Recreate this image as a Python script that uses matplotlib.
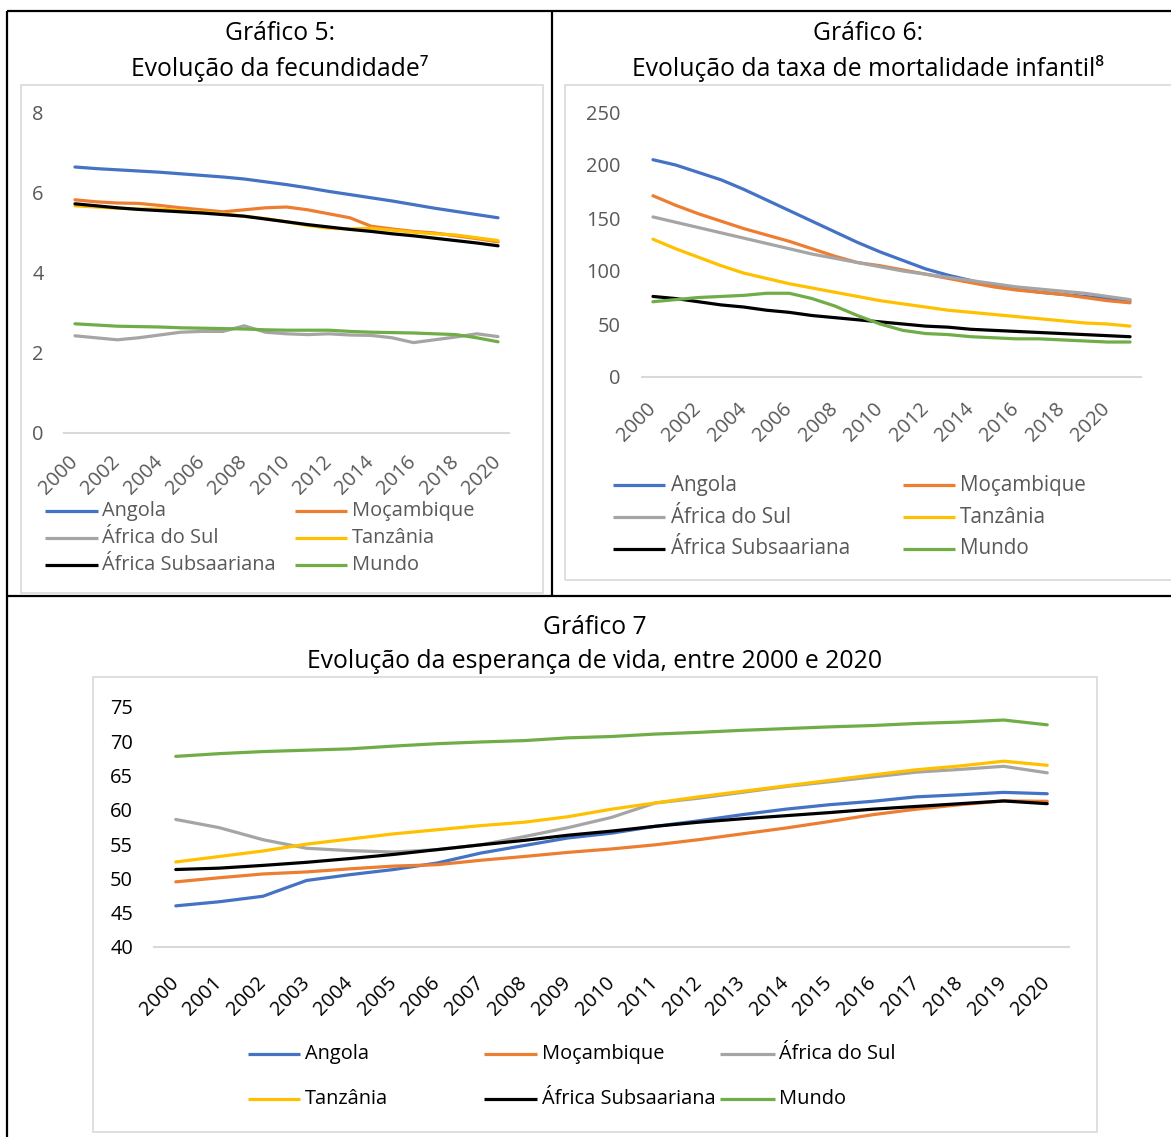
import matplotlib
matplotlib.use("Agg")
import matplotlib.pyplot as plt
from matplotlib.lines import Line2D
from matplotlib.patches import Rectangle

plt.rcParams["font.family"] = ["Open Sans", "DejaVu Sans"]

W, H = 1171, 1137
DPI = 100

series_names = ["Angola", "Moçambique", "África do Sul", "Tanzânia",
                "África Subsaariana", "Mundo"]
series_colors = ["#4472C4", "#ED7D31", "#A5A5A5", "#FFC000", "#000000", "#70AD47"]

# Gráfico 5 - fecundidade (filhos por mulher)
years_fec = list(range(2000, 2021))
fec_angola = [6.65, 6.61, 6.58, 6.55, 6.52, 6.48, 6.44, 6.40, 6.35, 6.28, 6.21,
              6.13, 6.04, 5.96, 5.88, 5.80, 5.71, 5.62, 5.54, 5.46, 5.38]
fec_mocambique = [5.83, 5.78, 5.75, 5.74, 5.69, 5.63, 5.58, 5.53, 5.58, 5.63, 5.65,
                  5.58, 5.48, 5.38, 5.17, 5.10, 5.04, 5.00, 4.93, 4.86, 4.78]
fec_africa_sul = [2.43, 2.38, 2.33, 2.38, 2.45, 2.52, 2.54, 2.54, 2.68, 2.52, 2.48,
                  2.46, 2.48, 2.45, 2.44, 2.38, 2.26, 2.33, 2.40, 2.48, 2.41]
fec_tanzania = [5.68, 5.65, 5.62, 5.60, 5.60, 5.56, 5.52, 5.48, 5.42, 5.36, 5.28,
                5.19, 5.12, 5.10, 5.12, 5.07, 5.02, 4.98, 4.95, 4.88, 4.81]
fec_subsaariana = [5.73, 5.68, 5.63, 5.59, 5.56, 5.53, 5.50, 5.46, 5.42, 5.35, 5.28,
                   5.21, 5.15, 5.09, 5.04, 4.98, 4.93, 4.87, 4.81, 4.75, 4.68]
fec_mundo = [2.73, 2.70, 2.67, 2.66, 2.65, 2.63, 2.62, 2.61, 2.60, 2.58, 2.57,
             2.57, 2.57, 2.54, 2.52, 2.51, 2.50, 2.48, 2.46, 2.38, 2.28]
fec_ticks = [0, 2, 4, 6, 8]

# Gráfico 6 - mortalidade infantil (por 1000 nados vivos)
years_mort = list(range(2000, 2022))
mort_angola = [205, 200, 193, 186, 177, 167, 157, 147, 137, 127, 118,
               110, 102, 96, 91, 86, 83, 80, 78, 76, 74, 72]
mort_mocambique = [171, 162, 154, 147, 140, 134, 128, 121, 114, 108, 105,
                   101, 97, 93, 89, 85, 82, 80, 78, 75, 72, 70]
mort_africa_sul = [151, 146, 141, 136, 131, 126, 121, 116, 112, 108, 104,
                   100, 97, 94, 91, 88, 85, 83, 81, 79, 76, 73]
mort_tanzania = [130, 121, 113, 105, 98, 93, 88, 84, 80, 76, 72,
                 69, 66, 63, 61, 59, 57, 55, 53, 51, 50, 48]
mort_subsaariana = [76, 74, 71, 68, 66, 63, 61, 58, 56, 54, 52,
                    50, 48, 47, 45, 44, 43, 42, 41, 40, 39, 38]
mort_mundo = [71, 73, 75, 76, 77, 79, 79, 74, 67, 58, 50,
              44, 41, 40, 38, 37, 36, 36, 35, 34, 33, 33]
mort_ticks = [0, 50, 100, 150, 200, 250]

# Gráfico 7 - esperança de vida (anos)
years_life = list(range(2000, 2021))
life_angola = [46.0, 46.6, 47.4, 49.7, 50.55, 51.3, 52.25, 53.7, 54.8, 55.9, 56.6,
               57.6, 58.4, 59.3, 60.1, 60.75, 61.25, 61.9, 62.2, 62.55, 62.35]
life_mocambique = [49.5, 50.1, 50.65, 50.95, 51.4, 51.8, 52.0, 52.65, 53.2, 53.8, 54.3,
                   54.9, 55.65, 56.5, 57.35, 58.3, 59.3, 60.1, 60.75, 61.3, 61.25]
life_africa_sul = [58.6, 57.4, 55.65, 54.4, 54.05, 53.85, 54.2, 54.9, 56.1, 57.4, 58.9,
                   61.0, 61.7, 62.55, 63.4, 64.1, 64.8, 65.5, 65.9, 66.35, 65.4]
life_tanzania = [52.4, 53.2, 54.0, 55.0, 55.75, 56.5, 57.1, 57.7, 58.2, 59.0, 60.1,
                 61.0, 61.9, 62.7, 63.5, 64.3, 65.1, 65.85, 66.4, 67.1, 66.5]
life_subsaariana = [51.3, 51.5, 51.9, 52.35, 52.9, 53.5, 54.2, 54.9, 55.55, 56.3, 56.9,
                    57.6, 58.2, 58.7, 59.15, 59.6, 60.1, 60.5, 60.9, 61.3, 60.9]
life_mundo = [67.8, 68.2, 68.5, 68.7, 68.9, 69.3, 69.65, 69.9, 70.1, 70.5, 70.7,
              71.05, 71.3, 71.6, 71.85, 72.1, 72.3, 72.6, 72.8, 73.1, 72.4]
life_ticks = [40, 45, 50, 55, 60, 65, 70, 75]

GRID = "#D9D9D9"
GREY_TXT = "#595959"
FS = 14.4
TFS = 17.8

fig = plt.figure(figsize=(W / DPI, H / DPI), dpi=DPI)
fig.patch.set_facecolor("white")


def fx(x):
    return x / W


def fy(y):
    return 1 - y / H


def add_axes_px(left, top, right, bottom):
    return fig.add_axes([fx(left), fy(bottom), (right - left) / W, (bottom - top) / H])


def fig_line(x0, y0, x1, y1, color, lw):
    fig.add_artist(Line2D([fx(x0), fx(x1)], [fy(y0), fy(y1)], color=color,
                          linewidth=lw, solid_capstyle="butt",
                          transform=fig.transFigure))


def fig_box(x0, y0, x1, y1, color, lw):
    fig.add_artist(Rectangle((fx(x0), fy(y1)), (x1 - x0) / W, (y1 - y0) / H,
                             fill=False, edgecolor=color, linewidth=lw,
                             transform=fig.transFigure))


def draw_chart(ax, years, data, yticks, ylim, label_step, txt_color, xpad):
    xs = list(range(len(years)))
    for vals, color in zip(data, series_colors):
        ax.plot(xs, vals, color=color, linewidth=2.3, solid_capstyle="round",
                solid_joinstyle="round")
    ax.set_xlim(-0.5, len(years) - 0.5)
    ax.set_ylim(*ylim)
    for s in ax.spines.values():
        s.set_visible(False)
    ax.axhline(ylim[0], color=GRID, linewidth=1.5, zorder=0, clip_on=False)
    ax.set_yticks(yticks)
    ax.set_yticklabels([str(t) for t in yticks])
    ticks = xs[::label_step]
    ax.set_xticks(ticks)
    ax.set_xticklabels([str(years[i]) for i in ticks], rotation=45,
                       ha="right", va="center", rotation_mode="anchor")
    ax.tick_params(axis="y", length=0, pad=15, labelsize=FS, labelcolor=txt_color)
    ax.tick_params(axis="x", length=0, pad=xpad, labelsize=FS, labelcolor=txt_color)
    ax.set_facecolor("none")


def draw_legend(rows, cols_x, txt_color, size):
    # rows: y of each legend row; cols_x: (line start, line end, text x) per column
    ncol = len(cols_x)
    for i, (name, color) in enumerate(zip(series_names, series_colors)):
        r, c = divmod(i, ncol)
        x0, x1, xt = cols_x[c]
        y = rows[r]
        fig_line(x0, y, x1, y, color, 2.3)
        fig.text(fx(xt), fy(y), name, ha="left", va="center", fontsize=size,
                 color=txt_color)


# table frame lines
fig_line(7, 11, 1171, 11, "black", 1.6)
fig_line(7, 11, 7, 1137, "black", 1.6)
fig_line(552, 11, 552, 596, "black", 1.6)
fig_line(7, 596, 1171, 596, "black", 1.6)

# chart area borders
fig_box(21, 85, 543, 593, GRID, 1.2)
fig_box(565, 85, 1185, 580, GRID, 1.2)
fig_box(93, 677, 1097, 1132, GRID, 1.2)

# titles
fig.text(fx(280), fy(33), "Gráfico 5:", ha="center", va="center", fontsize=TFS)
fig.text(fx(280), fy(69), "Evolução da fecundidade⁷", ha="center", va="center",
         fontsize=TFS)
fig.text(fx(868), fy(33), "Gráfico 6:", ha="center", va="center", fontsize=TFS)
fig.text(fx(868), fy(69), "Evolução da taxa de mortalidade infantil⁸", ha="center",
         va="center", fontsize=TFS)
fig.text(fx(595), fy(627), "Gráfico 7", ha="center", va="center", fontsize=TFS)
fig.text(fx(595), fy(662), "Evolução da esperança de vida, entre 2000 e 2020",
         ha="center", va="center", fontsize=TFS)

# Gráfico 5
ax5 = add_axes_px(64.4, 113, 508.6, 433)
draw_chart(ax5, years_fec,
           [fec_angola, fec_mocambique, fec_africa_sul, fec_tanzania,
            fec_subsaariana, fec_mundo],
           fec_ticks, (0, 8), 2, GREY_TXT, 19)
draw_legend([511, 538, 565], [(45, 98, 102), (295, 347, 352)], GREY_TXT, FS)

# Gráfico 6
ax6 = add_axes_px(641.6, 112, 1141.4, 377)
draw_chart(ax6, years_mort,
           [mort_angola, mort_mocambique, mort_africa_sul, mort_tanzania,
            mort_subsaariana, mort_mundo],
           mort_ticks, (0, 250), 2, GREY_TXT, 21)
draw_legend([485, 517, 549], [(613, 665, 671), (903, 955, 960)], GREY_TXT, 14.9)

# Gráfico 7
ax7 = add_axes_px(154, 707, 1069, 947)
draw_chart(ax7, years_life,
           [life_angola, life_mocambique, life_africa_sul, life_tanzania,
            life_subsaariana, life_mundo],
           life_ticks, (40, 75), 1, "black", 24)
draw_legend([1054, 1099], [(248, 300, 305), (484, 537, 542), (720, 775, 779)],
            "black", FS)

fig.savefig("out.png", dpi=DPI, facecolor="white")
